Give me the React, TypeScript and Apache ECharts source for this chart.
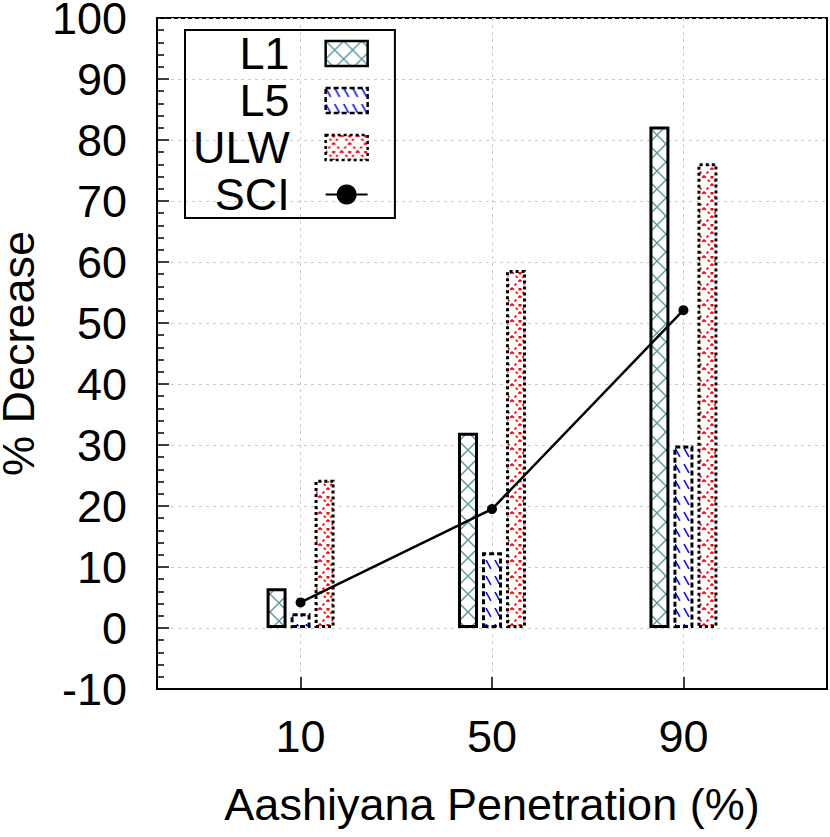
import React, { useEffect, useRef } from "react";
import * as echarts from "echarts";

// ---- data ----
const xValues = [10, 50, 90];
const xTickValues = [10, 50, 90];
const l1Values = [6.5, 32, 82.2];
const l5Values = [2.4, 12.4, 29.9];
const ulwValues = [24.3, 58.7, 76.2];
const sciValues = [4.2, 19.5, 52.1];
const seriesNames = ["L1", "L5", "ULW", "SCI"];

const FONT = "Liberation Sans";

function makeTile(w: number, h: number, draw: (ctx: CanvasRenderingContext2D) => void) {
  const c = document.createElement("canvas");
  c.width = w;
  c.height = h;
  const ctx = c.getContext("2d")!;
  ctx.fillStyle = "#ffffff";
  ctx.fillRect(0, 0, w, h);
  draw(ctx);
  return c;
}

function crossPattern() {
  const s = 18;
  const img = makeTile(s, s, (ctx) => {
    ctx.strokeStyle = "#5f9ea0";
    ctx.lineWidth = 1.5;
    for (const dx of [-s, 0, s]) {
      ctx.beginPath();
      ctx.moveTo(dx, 0);
      ctx.lineTo(dx + s, s);
      ctx.moveTo(dx + s, 0);
      ctx.lineTo(dx, s);
      ctx.stroke();
    }
  });
  return { image: img, repeat: "repeat", imageWidth: s, imageHeight: s };
}

function dashPattern() {
  const w = 9;
  const h = 16;
  const img = makeTile(w, h, (ctx) => {
    ctx.strokeStyle = "#0000ff";
    ctx.lineWidth = 1.5;
    for (const dx of [-w, 0, w]) {
      ctx.beginPath();
      ctx.moveTo(dx, 0);
      ctx.lineTo(dx + w * 0.55, h * 0.55);
      ctx.stroke();
    }
  });
  return { image: img, repeat: "repeat", imageWidth: w, imageHeight: h };
}

function dotPattern() {
  const s = 16;
  const img = makeTile(s, s, (ctx) => {
    ctx.strokeStyle = "#ff0000";
    ctx.lineWidth = 1.8;
    ctx.setLineDash([2.5, 3]);
    for (const dx of [-s, 0, s]) {
      ctx.beginPath();
      ctx.moveTo(dx, 0);
      ctx.lineTo(dx + s, s);
      ctx.moveTo(dx + s, 0);
      ctx.lineTo(dx, s);
      ctx.stroke();
    }
    ctx.setLineDash([]);
    ctx.fillStyle = "#ff0000";
    ctx.fillRect(s / 2 - 1.5, -0.5, 3, 3);
  });
  return { image: img, repeat: "repeat", imageWidth: s, imageHeight: s };
}

export default function App() {
  const ref = useRef<HTMLDivElement>(null);

  useEffect(() => {
    if (!ref.current) return;
    const chart = echarts.init(ref.current, undefined, { renderer: "svg" });

    const p1 = crossPattern();
    const p5 = dashPattern();
    const pu = dotPattern();

    const pairs = (vals: number[]) => xValues.map((x, i) => [x, vals[i]]);

    const option: any = {
      animation: false,
      textStyle: { fontFamily: FONT },
      grid: {
        left: 157,
        right: 3,
        top: 18,
        bottom: 148,
        show: true,
        borderColor: "#000",
        borderWidth: 2,
        backgroundColor: "transparent",
        containLabel: false,
        outerBoundsMode: "none",
      },
      legend: {
        orient: "vertical",
        left: 185,
        top: 30,
        align: "right",
        itemWidth: 42,
        itemHeight: 25,
        itemGap: 2,
        padding: [1, 26, 1, 8],
        borderColor: "#000",
        borderWidth: 2,
        textStyle: { fontSize: 45, color: "#000", fontFamily: FONT, padding: [0, 31, 0, 0] },
        itemStyle: { borderWidth: 2.5 },
        data: [
          { name: seriesNames[0], icon: "rect" },
          { name: seriesNames[1], icon: "rect", itemStyle: { borderType: [5, 3] } },
          { name: seriesNames[2], icon: "rect", itemStyle: { borderType: [3, 3] } },
          { name: seriesNames[3] },
        ],
      },
      xAxis: {
        type: "value",
        min: -20,
        max: 120,
        name: "Aashiyana Penetration (%)",
        nameLocation: "middle",
        nameGap: 93,
        nameTextStyle: { fontSize: 45, color: "#000", fontFamily: FONT },
        axisLine: { show: true, onZero: false, lineStyle: { color: "#000", width: 2 } },
        axisTick: {
          show: true,
          inside: true,
          length: 12,
          customValues: xTickValues,
          lineStyle: { color: "#000", width: 1.5 },
        },
        axisLabel: {
          customValues: xTickValues,
          fontSize: 45,
          color: "#000",
          margin: 25,
          fontFamily: FONT,
        },
        splitLine: { show: true, lineStyle: { color: "#cccccc", type: [3, 4], width: 1 } },
      },
      yAxis: {
        type: "value",
        min: -10,
        max: 100,
        interval: 10,
        name: "% Decrease",
        nameLocation: "middle",
        nameGap: 120,
        nameTextStyle: { fontSize: 45, color: "#000", fontFamily: FONT, lineHeight: 36 },
        axisLine: { show: true, onZero: false, lineStyle: { color: "#000", width: 2 } },
        axisTick: { show: true, inside: true, length: 12, lineStyle: { color: "#000", width: 1.5 } },
        minorTick: { show: true, splitNumber: 5, length: 7, lineStyle: { color: "#000", width: 1.5 } },
        axisLabel: { fontSize: 45, color: "#000", margin: 30, fontFamily: FONT, lineHeight: 36 },
        splitLine: { show: true, lineStyle: { color: "#cccccc", type: [3, 4], width: 1 } },
      },
      series: [
        {
          name: seriesNames[0],
          type: "bar",
          data: pairs(l1Values),
          barWidth: 20,
          barGap: "20%",
          itemStyle: { color: p1, borderColor: "#000", borderWidth: 3 },
        },
        {
          name: seriesNames[1],
          type: "bar",
          data: pairs(l5Values),
          barWidth: 20,
          barGap: "20%",
          itemStyle: { color: p5, borderColor: "#000", borderWidth: 3, borderType: [5, 3] },
        },
        {
          name: seriesNames[2],
          type: "bar",
          data: pairs(ulwValues),
          barWidth: 20,
          barGap: "20%",
          itemStyle: { color: pu, borderColor: "#000", borderWidth: 3, borderType: [3, 3] },
        },
        {
          name: seriesNames[3],
          type: "line",
          data: pairs(sciValues),
          symbol: "circle",
          symbolSize: 10,
          lineStyle: { color: "#000", width: 2.5 },
          itemStyle: { color: "#000" },
          z: 5,
        },
      ],
    };

    chart.setOption(option);
    return () => chart.dispose();
  }, []);

  return <div ref={ref} style={{ width: 830, height: 837, position: "absolute", left: 0, top: 0 }} />;
}
